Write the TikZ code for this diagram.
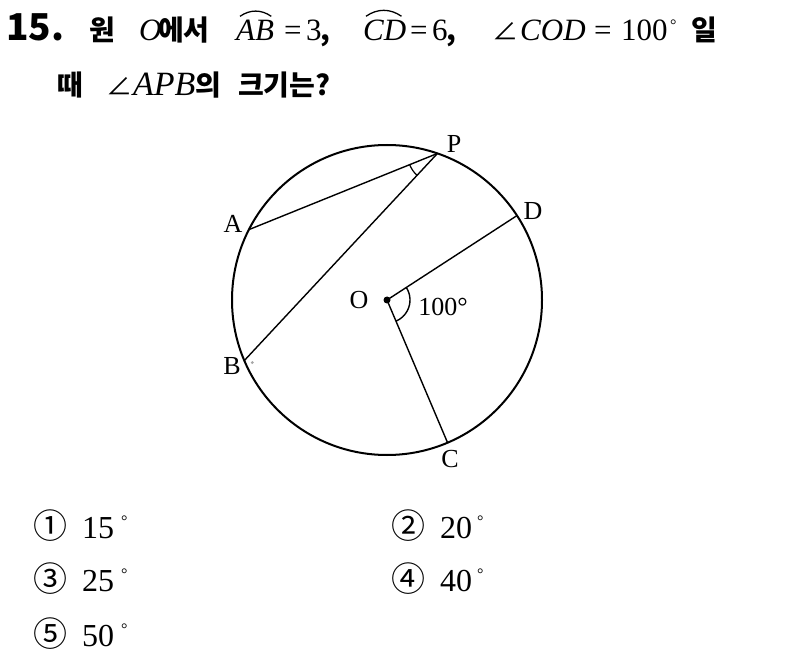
\documentclass[tikz,border=0pt]{standalone}
\usepackage{fontspec}
\setmainfont{Liberation Serif}
\newfontfamily\kr{Noto Sans CJK KR}
\usetikzlibrary{calc}
\begin{document}
\begin{tikzpicture}[x=1pt,y=1pt,
  tk/.style={inner sep=0pt, anchor=base west},
  kb/.style={tk, font=\kr\bfseries\fontsize{28}{28}\selectfont},
  mi/.style={tk, font=\itshape\fontsize{31}{31}\selectfont},
  mitwo/.style={tk, font=\itshape\fontsize{34}{34}\selectfont},
  mr/.style={tk, font=\fontsize{31}{31}\selectfont},
  angsym/.style={tk, font=\kr\fontsize{26}{26}\selectfont},
  degsmall/.style={tk, font=\fontsize{16}{16}\selectfont},
  lbl/.style={inner sep=0pt, font=\fontsize{26}{26}\selectfont},
  circnum/.style={inner sep=0pt, font=\kr\fontsize{34}{34}\selectfont},
  ansnum/.style={tk, font=\fontsize{32}{32}\selectfont},
  rim/.style={line width=2pt},
  chord/.style={line width=1.4pt},
  wide/.style={line width=1.3pt}
]
\useasboundingbox (0,0) rectangle (804,-663);

% ---------- title line 1 ----------
\node[tk, font=\kr\bfseries\fontsize{37}{37}\selectfont] (num) at (6,-41) {15.};
\node[kb] (w1) at (89,-41) {원};
\node[mi] (o1) at (139,-41) {O};
\node[kb] (w2) at (158,-41) {에서};
\node[mi] (ab) at (236,-41) {AB};
\draw[wide] ([xshift=4pt,yshift=4pt]ab.north west) to[bend left=35] ([xshift=-3pt,yshift=4pt]ab.north east);
\node[mr] (e1) at (284,-41) {=};
\node[mr] (n3) at (306,-41) {3};
\node[kb] (c1) at (320,-41) {,};
\node[mi] (cd) at (363,-41) {CD};
\draw[wide] ([xshift=3pt,yshift=4pt]cd.north west) to[bend left=35] ([xshift=-5pt,yshift=4pt]cd.north east);
\node[mr] (e2) at (410,-41) {=};
\node[mr] (n6) at (432,-41) {6};
\node[kb] (c2) at (446,-41) {,};
\node[angsym] (ang1) at (492,-41) {∠};
\node[mi] (cod) at (520,-41) {COD};
\node[mr] (e3) at (594,-41) {=};
\node[mr] (n100) at (621,-41) {100};
\node[degsmall] (deg1) at (670,-31) {°};
\node[kb] (w3) at (691,-41) {일};

% ---------- title line 2 ----------
\node[kb] (w4) at (57,-96) {때};
\node[angsym] (ang2) at (106,-96) {∠};
\node[mitwo] (apb) at (133,-96) {APB};
\node[kb] (w5) at (apb.base east) {의};
\node[kb] (w6) at (238,-96) {크기는?};

% ---------- figure ----------
\coordinate (O) at (387,-300);
\coordinate (P) at ($(O)+(71:155)$);
\coordinate (A) at ($(O)+(153:155)$);
\coordinate (B) at ($(O)+(203:155)$);
\coordinate (D) at ($(O)+(33:155)$);
\coordinate (C) at ($(O)+(-67:155)$);

\draw[rim] (O) circle (155);
\draw[chord] (P) -- (A);
\draw[chord] (P) -- (B);
\draw[chord] (O) -- (D);
\draw[chord] (O) -- (C);
\draw[line width=1.2pt] ($(P)+(202:30)$) arc (202:227:30);
\draw[line width=1.4pt] ($(O)+(33:23)$) arc (33:-67:23);
\fill (O) circle (3.5);
\fill[gray!70] ($(B)+(8,-2)$) circle (1.6);

\node[lbl] (lP) at (454,-144) {P};
\node[lbl] (lA) at (233,-224) {A};
\node[lbl] (lD) at (533,-211) {D};
\node[lbl] (lB) at (232,-366) {B};
\node[lbl] (lC) at (450,-459) {C};
\node[lbl] (lO) at (359,-300) {O};
\node[lbl] (l100) at (443,-307) {100°};

% ---------- answers ----------
\node[circnum] (q1) at (50,-526) {①};
\node[ansnum] (a1) at (82,-538) {15};
\node[degsmall] (d1) at (121,-526) {°};
\node[circnum] (q2) at (408,-526) {②};
\node[ansnum] (a2) at (440,-538) {20};
\node[degsmall] (d2) at (477,-526) {°};
\node[circnum] (q3) at (50,-579) {③};
\node[ansnum] (a3) at (82,-591) {25};
\node[degsmall] (d3) at (121,-579) {°};
\node[circnum] (q4) at (408,-579) {④};
\node[ansnum] (a4) at (440,-591) {40};
\node[degsmall] (d4) at (477,-579) {°};
\node[circnum] (q5) at (50,-634) {⑤};
\node[ansnum] (a5) at (82,-646) {50};
\node[degsmall] (d5) at (121,-634) {°};
\end{tikzpicture}
\end{document}
